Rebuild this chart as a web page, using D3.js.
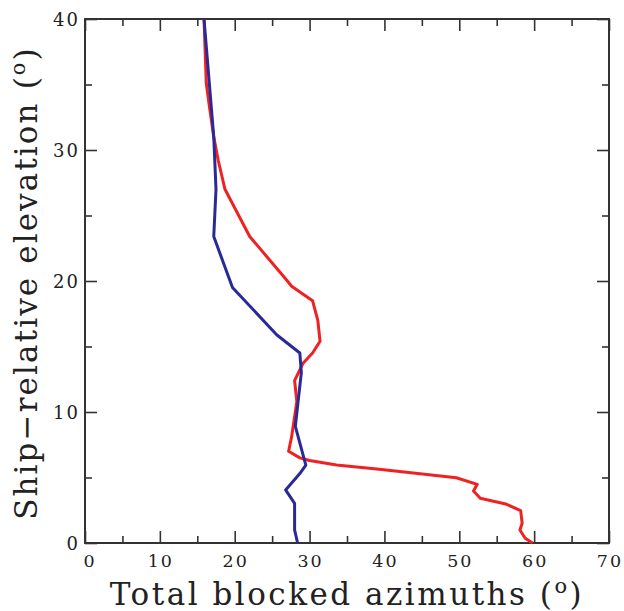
<!DOCTYPE html>
<html>
<head>
<meta charset="utf-8">
<script src="https://cdn.jsdelivr.net/npm/d3@7"></script>
<style>
  body { margin: 0; background: #fff; }
  svg text { font-family: "DejaVu Serif", serif; fill: #222; }
</style>
</head>
<body>
<svg id="chart" width="624" height="611"></svg>
<script>
// Values (azimuth in deg, elevation in deg).
var redAzimuth = [15.9, 16.2, 16.7, 17.2, 17.8, 18.7, 22.0, 26.9, 27.6, 30.4, 31.1, 31.4, 30.4, 29.1, 28.0, 28.3, 27.6, 27.2, 28.7, 30.0, 33.6, 39.3, 49.6, 52.4, 51.9, 52.8, 56.2, 58.2, 58.4, 58.1, 58.8, 59.8];
var redElevation = [40, 35.1, 33, 31, 29.2, 27, 23.4, 20.1, 19.6, 18.5, 17.0, 15.4, 14.5, 13.7, 12.4, 10.8, 8.1, 7.0, 6.5, 6.3, 5.95, 5.63, 4.98, 4.48, 3.97, 3.41, 2.98, 2.47, 1.5, 0.99, 0.36, 0];

var blueAzimuth = [15.9, 17.2, 17.5, 17.2, 19.7, 25.6, 28.7, 28.9, 28.1, 29.5, 28.7, 26.8, 28.0, 28.0, 28.4];
var blueElevation = [40, 31, 27, 23.4, 19.5, 15.9, 14.5, 13.0, 8.9, 5.95, 5.3, 4.05, 3.03, 1.0, 0];

var xTicks = [0, 10, 20, 30, 40, 50, 60, 70];
var yTicks = [0, 10, 20, 30, 40];

var svg = d3.select("#chart");
var plotLeft = 85, plotRight = 609, plotTop = 19, plotBottom = 543;

var x = d3.scaleLinear().domain([0, 70]).range([plotLeft, plotRight]);
var y = d3.scaleLinear().domain([0, 40]).range([plotBottom, plotTop]);

// Inward ticks on all four sides, major every 10, minor every 5.
var xMinor = d3.range(0, 71, 5), yMinor = d3.range(0, 41, 5);
function tickLen(v) { return v % 10 === 0 ? 12 : 7; }

svg.append("g").attr("transform", "translate(0," + plotBottom + ")")
  .call(d3.axisBottom(x).tickValues(xMinor).tickFormat(""))
  .call(function(g) { g.selectAll(".tick line").attr("y2", function(d) { return -tickLen(d); }); });
svg.append("g").attr("transform", "translate(0," + plotTop + ")")
  .call(d3.axisTop(x).tickValues(xMinor).tickFormat(""))
  .call(function(g) { g.selectAll(".tick line").attr("y2", function(d) { return tickLen(d); }); });
svg.append("g").attr("transform", "translate(" + plotLeft + ",0)")
  .call(d3.axisLeft(y).tickValues(yMinor).tickFormat(""))
  .call(function(g) { g.selectAll(".tick line").attr("x2", function(d) { return tickLen(d); }); });
svg.append("g").attr("transform", "translate(" + plotRight + ",0)")
  .call(d3.axisRight(y).tickValues(yMinor).tickFormat(""))
  .call(function(g) { g.selectAll(".tick line").attr("x2", function(d) { return -tickLen(d); }); });

svg.selectAll(".domain").remove();
svg.selectAll(".tick text").remove();
svg.selectAll(".tick line").attr("stroke", "#333").attr("stroke-width", 1.6);

svg.append("rect")
  .attr("x", plotLeft).attr("y", plotTop)
  .attr("width", plotRight - plotLeft).attr("height", plotBottom - plotTop)
  .attr("fill", "none").attr("stroke", "#333").attr("stroke-width", 2);

// Tick labels
svg.append("g").selectAll("text").data(xTicks).enter().append("text")
  .attr("x", function(d) { return x(d) + (d === 0 ? 5 : 1); })
  .attr("y", plotBottom + 24)
  .attr("text-anchor", "middle")
  .attr("font-size", 17.5)
  .attr("letter-spacing", 2)
  .text(function(d) { return d; });

svg.append("g").selectAll("text").data(yTicks).enter().append("text")
  .attr("x", plotLeft - 5)
  .attr("y", function(d) { return y(d) + 7; })
  .attr("text-anchor", "end")
  .attr("font-size", 18)
  .attr("letter-spacing", 2)
  .text(function(d) { return d; });

// Axis titles
var xt = svg.append("text")
  .attr("x", 347)
  .attr("y", 605)
  .attr("text-anchor", "middle")
  .attr("font-size", 31)
  .attr("letter-spacing", 2.5)
  .text("Total blocked azimuths (");
xt.append("tspan").attr("dy", -12).attr("font-size", 21).text("o");
xt.append("tspan").attr("dy", 12).text(")");

var yt = svg.append("text")
  .attr("transform", "translate(37,283) rotate(-90)")
  .attr("text-anchor", "middle")
  .attr("font-size", 31)
  .attr("letter-spacing", 2.1)
  .text("Ship\u2212relative elevation (");
yt.append("tspan").attr("dy", -12).attr("font-size", 21).text("o");
yt.append("tspan").attr("dy", 12).text(")");

// Series
var line = d3.line()
  .x(function(d) { return x(d[0]); })
  .y(function(d) { return y(d[1]); });

var redData = d3.zip(redAzimuth, redElevation);
var blueData = d3.zip(blueAzimuth, blueElevation);

svg.append("path").datum(redData)
  .attr("d", line)
  .attr("fill", "none").attr("stroke", "#ee2222").attr("stroke-width", 3)
  .attr("stroke-linejoin", "round");

svg.append("path").datum(blueData)
  .attr("d", line)
  .attr("fill", "none").attr("stroke", "#2a2a96").attr("stroke-width", 3)
  .attr("stroke-linejoin", "round");
</script>
</body>
</html>
